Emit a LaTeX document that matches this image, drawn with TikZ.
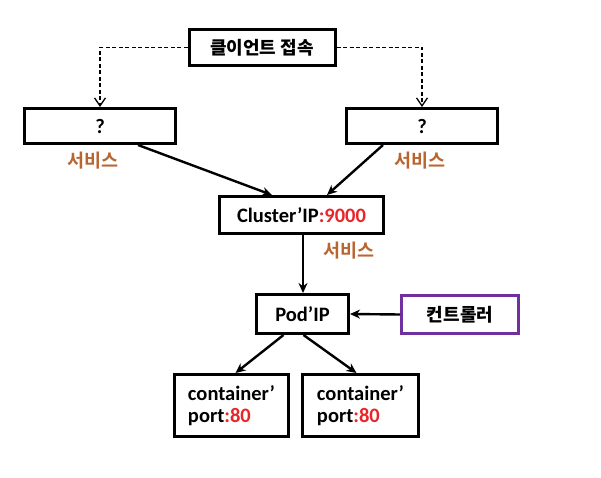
\documentclass[tikz,border=0pt]{standalone}
\usepackage{fontspec}
\usetikzlibrary{arrows.meta,positioning}
\setmainfont{Carlito}
\newfontfamily\kr{Noto Sans CJK KR Bold}
\definecolor{SvcBrown}{HTML}{B8652F}
\definecolor{PortRed}{HTML}{E8262A}
\definecolor{CtrlPurple}{HTML}{7030A0}

\begin{document}
\begin{tikzpicture}[x=1pt,y=-1pt,
    box/.style={draw,line width=3pt,inner sep=0pt,align=center,
      font=\bfseries\fontsize{20.5}{22}\selectfont},
    ctrl/.style={box,draw=CtrlPurple,line width=2.6pt},
    svc/.style={text=SvcBrown,font=\kr\fontsize{18.5}{20}\selectfont},
    link/.style={line width=2.4pt,-{Stealth[length=10pt,width=9pt]}},
    reach/.style={line width=1.3pt,dashed,dash pattern=on 4pt off 2.5pt,
      -{Straight Barb[length=8pt,width=11pt]}}
  ]
    \useasboundingbox (0,0) rectangle (601,478);
    \node[box,minimum width=146pt,minimum height=36pt] (client) at (262,47.5)
      {\kr\fontsize{18}{20}\selectfont 클이언트 접속};
    \node[box,minimum width=151pt,minimum height=35pt] (lq) at (100,126) {?};
    \node[box,minimum width=151pt,minimum height=35pt] (rq) at (422,126) {?};
    \node[box,minimum width=164pt,minimum height=37pt] (cluster) at (301.5,215)
      {Cluster’IP\textcolor{PortRed}{:9000}};
    \node[box,minimum width=92pt,minimum height=39pt] (pod) at (302.5,314) {Pod’IP};
    \node[ctrl,minimum width=117pt,minimum height=38pt] (ctl) at (460,314.5)
      {\kr\fontsize{18}{20}\selectfont 컨트롤러};
    \node[box,minimum width=114pt,minimum height=62pt,align=left] (c1) at (231.5,405.5)
      {container’\\port\textcolor{PortRed}{:80}};
    \node[box,minimum width=116pt,minimum height=62pt,align=left] (c2) at (360.5,405.5)
      {container’\\port\textcolor{PortRed}{:80}};
    % service labels
    \node[svc] (lsvc) at (93,161) {서비스};
    \node[svc] (rsvc) at (420,161) {서비스};
    \node[svc] (csvc) at (349,251) {서비스};

    \draw[reach] (client.west) -| (lq.north);
    \draw[reach] (client.east) -| (rq.north);
    \draw[link] ([xshift=38pt]lq.south) -- ([xshift=-29.5pt]cluster.north);
    \draw[link] ([xshift=-39pt]rq.south) -- ([xshift=25.5pt]cluster.north);
    \draw[link] ([xshift=1.5pt]cluster.south) -- ([xshift=0.5pt]pod.north);
    \draw[link] (ctl.west) -- (pod.east);
    \draw[link] ([xshift=-19pt]pod.south) -- ([xshift=4pt]c1.north);
    \draw[link] ([xshift=1pt]pod.south) -- ([xshift=-4pt]c2.north);
  \end{tikzpicture}
\end{document}
